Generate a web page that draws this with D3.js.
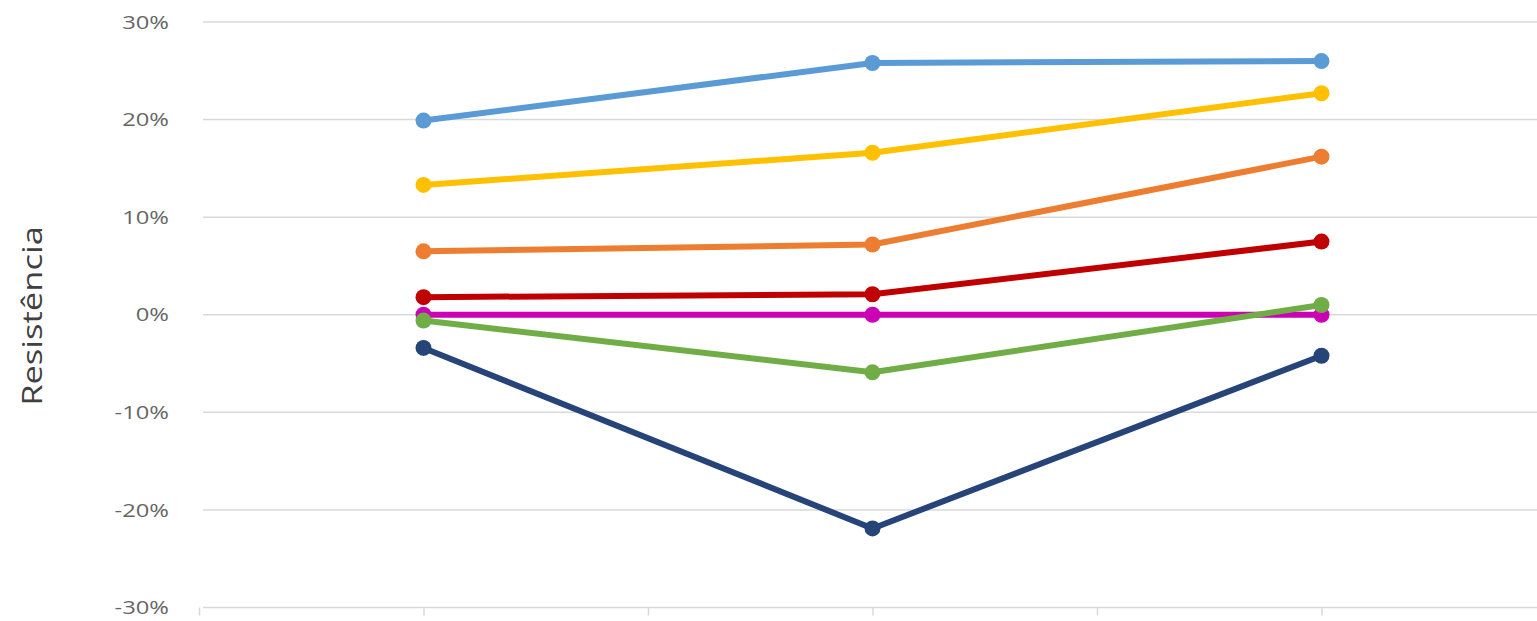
<!DOCTYPE html>
<html>
<head>
<meta charset="utf-8">
<script src="https://cdn.jsdelivr.net/npm/d3@7"></script>
<style>
  body { margin: 0; background: #fff; }
  text { font-family: "Open Sans", "Liberation Sans", sans-serif; }
</style>
</head>
<body>
<script>
// category positions on the x axis (6 slots, points sit on 1, 3, 5)
var categories = [1, 3, 5];
var yTicks = [-0.3, -0.2, -0.1, 0, 0.1, 0.2, 0.3];
var xTicks = [0, 1, 2, 3, 4, 5, 6];

var seriesColors = ["#5B9BD5", "#FFC000", "#ED7D31", "#C00000", "#CC00B4", "#70AD47", "#264478"];
var lightBlue = [0.199, 0.258, 0.260];
var yellow    = [0.133, 0.166, 0.227];
var orange    = [0.065, 0.072, 0.162];
var red       = [0.018, 0.021, 0.075];
var magenta   = [0.000, 0.000, 0.000];
var green     = [-0.006, -0.059, 0.010];
var darkBlue  = [-0.034, -0.219, -0.042];
var allSeries = [lightBlue, yellow, orange, red, magenta, green, darkBlue];

var width = 1537, height = 621;

var x = d3.scaleLinear().domain([0, 6]).range([199, 1546]);
var y = d3.scaleLinear().domain([-0.3, 0.3]).range([607.5, 22]);

var svg = d3.select("body").append("svg")
  .attr("width", width)
  .attr("height", height);

// gridlines
svg.append("g")
  .selectAll("line")
  .data(yTicks.filter(function(d){ return d > -0.3; }))
  .enter().append("line")
  .attr("x1", 203).attr("x2", width)
  .attr("y1", function(d){ return y(d); })
  .attr("y2", function(d){ return y(d); })
  .attr("stroke", "#D9D9D9")
  .attr("stroke-width", 1.5);

// y tick labels (stretched a bit like the original)
svg.append("g")
  .selectAll("text")
  .data(yTicks)
  .enter().append("text")
  .attr("transform", function(d){ return "translate(169," + y(d) + ") scale(1.25,1)"; })
  .attr("dy", "0.35em")
  .attr("text-anchor", "end")
  .attr("fill", "#666666")
  .style("font-size", "19px")
  .text(function(d){ return d3.format(".0%")(d).replace("−", "-"); });

// x axis
var xAxis = d3.axisBottom(x).tickValues(xTicks).tickSize(8).tickFormat("");
var gx = svg.append("g")
  .attr("transform", "translate(0," + y(-0.3) + ")")
  .call(xAxis);
gx.select(".domain").attr("stroke", "#D9D9D9").attr("stroke-width", 1.5)
  .attr("d", "M203,0H" + width);
gx.selectAll(".tick line").attr("stroke", "#D9D9D9").attr("stroke-width", 1.5);

// y axis title
svg.append("text")
  .attr("transform", "translate(42,316) rotate(-90) scale(1.28,1)")
  .attr("text-anchor", "middle")
  .attr("fill", "#404040")
  .style("font-size", "27px")
  .text("Resistência");

var line = d3.line()
  .x(function(d, i){ return x(categories[i]); })
  .y(function(d){ return y(d); });

allSeries.forEach(function(s, k){
  var g = svg.append("g");
  g.append("path")
    .datum(s)
    .attr("d", line)
    .attr("fill", "none")
    .attr("stroke", seriesColors[k])
    .attr("stroke-width", 6)
    .attr("stroke-linejoin", "round");
  g.selectAll("circle")
    .data(s)
    .enter().append("circle")
    .attr("cx", function(d, i){ return x(categories[i]); })
    .attr("cy", function(d){ return y(d); })
    .attr("r", 8)
    .attr("fill", seriesColors[k]);
});
</script>
</body>
</html>
